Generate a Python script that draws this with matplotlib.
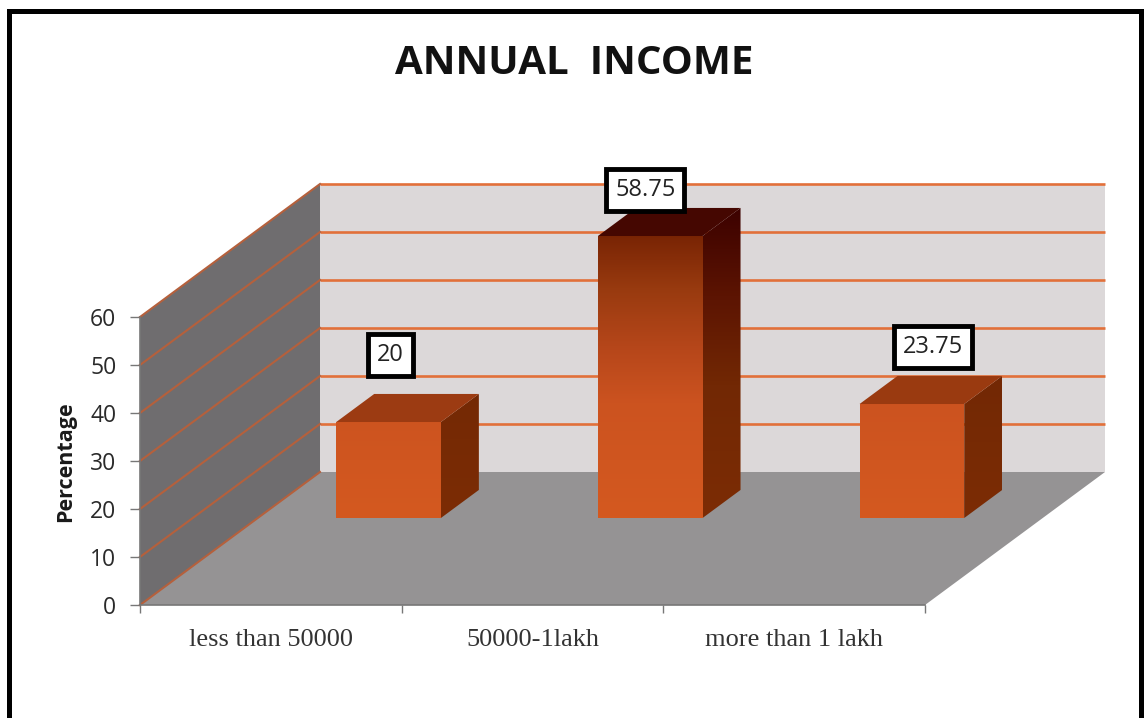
#!/usr/bin/env python3
import numpy as np
import matplotlib
matplotlib.use("Agg")
import matplotlib.pyplot as plt
from matplotlib.colors import LinearSegmentedColormap
from matplotlib.lines import Line2D
from matplotlib.patches import Polygon

categories = ["less than 50000", "50000-1lakh", "more than 1 lakh"]
percentages = [20, 58.75, 23.75]
value_labels = ["20", "58.75", "23.75"]
y_ticks = [0, 10, 20, 30, 40, 50, 60]

W, H = 1144, 718

# oblique projection of the chart box: depth 0 is the front, 1 the back wall
DEPTH_X = 180 / 261.67
DEPTH_Y = 133 / 4.8
BAR_WIDTH = 0.4
BAR_FRONT = 0.654
BAR_BACK = 0.865

# where each value box sits relative to the top of its bar, in pixels
label_shift = [(-17, 53), (-24, 32), (2, 43)]

front_cmap = LinearSegmentedColormap.from_list(
    "front", [(0, "#d4591f"), (0.4, "#cc5320"), (0.6, "#b5461a"), (0.8, "#983a0f"), (1, "#762203")])
side_cmap = LinearSegmentedColormap.from_list(
    "side", [(0, "#7c2c05"), (0.42, "#722804"), (0.7, "#5c1402"), (1, "#3a0000")])
top_cmap = LinearSegmentedColormap.from_list(
    "top", [(0, "#a5421a"), (0.4, "#9a3a10"), (1, "#420500")])


def project(x, v, d):
    return x + d * DEPTH_X, v + d * DEPTH_Y


def shaded_face(ax, verts, cmap, v_low, v_high):
    # polygon filled with a vertical gradient from v_low to v_high (fractions of the axis)
    verts = np.array(verts)
    clip = Polygon(verts, closed=True, facecolor="none", edgecolor="none", clip_on=False, zorder=4)
    ax.add_patch(clip)
    grad = np.linspace(v_low, v_high, 256).reshape(-1, 1)
    im = ax.imshow(
        grad, cmap=cmap, vmin=0, vmax=1, origin="lower", aspect="auto", zorder=4,
        interpolation="bilinear",
        extent=[verts[:, 0].min(), verts[:, 0].max(), verts[:, 1].min(), verts[:, 1].max()],
    )
    im.set_clip_box(ax.figure.bbox)
    im.set_clip_path(clip)


def draw_bar(ax, center, value):
    x0, x1 = center - BAR_WIDTH / 2, center + BAR_WIDTH / 2
    frac = value / 60

    front = [project(x0, 0, BAR_FRONT), project(x1, 0, BAR_FRONT),
             project(x1, value, BAR_FRONT), project(x0, value, BAR_FRONT)]
    side = [project(x1, 0, BAR_FRONT), project(x1, 0, BAR_BACK),
            project(x1, value, BAR_BACK), project(x1, value, BAR_FRONT)]
    top = [project(x0, value, BAR_FRONT), project(x1, value, BAR_FRONT),
           project(x1, value, BAR_BACK), project(x0, value, BAR_BACK)]

    shaded_face(ax, front, front_cmap, 0, frac)
    shaded_face(ax, side, side_cmap, 0, frac)
    ax.add_patch(Polygon(top, closed=True, facecolor=top_cmap(frac), edgecolor="none",
                         clip_on=False, zorder=4))


def main():
    fig = plt.figure(figsize=(W / 100, H / 100), dpi=100, facecolor="white")
    ax = fig.add_axes([140 / W, 1 - 605 / H, 785 / W, 288 / H])
    ax.set_facecolor("none")

    n = len(categories)

    # back wall, side wall and floor
    wall = [project(0, 0, 1), project(n, 0, 1), project(n, 60, 1), project(0, 60, 1)]
    side = [project(0, 0, 0), project(0, 0, 1), project(0, 60, 1), project(0, 60, 0)]
    floor = [project(0, 0, 0), project(n, 0, 0), project(n, 0, 1), project(0, 0, 1)]
    ax.add_patch(Polygon(wall, closed=True, facecolor="#dcd8d9", edgecolor="none", clip_on=False, zorder=1))
    ax.add_patch(Polygon(side, closed=True, facecolor="#6f6d6f", edgecolor="none", clip_on=False, zorder=1))
    ax.add_patch(Polygon(floor, closed=True, facecolor="#959394", edgecolor="none", clip_on=False, zorder=1))

    # grid lines run along the side wall and across the back wall
    for v in y_ticks:
        px, py = zip(project(0, v, 1), project(n, v, 1))
        sx, sy = zip(project(0, v, 0), project(0, v, 1))
        if v > 0:
            ax.plot(px, py, color="#e2703a", lw=1.9, clip_on=False, zorder=2, solid_capstyle="butt")
        ax.plot(sx, sy, color="#b5603c", lw=1.5, clip_on=False, zorder=2)

    for i, value in enumerate(percentages):
        draw_bar(ax, i + 0.5, value)

    for i, value in enumerate(percentages):
        cx = i + 0.5
        tx, ty = project(cx, value, (BAR_FRONT + BAR_BACK) / 2)
        ax.annotate(
            value_labels[i], xy=(tx, ty), xytext=label_shift[i], textcoords="offset pixels",
            ha="center", va="center", fontsize=17, family="Open Sans", color="#222222", zorder=6,
            annotation_clip=False,
            bbox=dict(boxstyle="square,pad=0.38", facecolor="white", edgecolor="black", linewidth=3.5),
        )

    ax.set_xlim(0, n)
    ax.set_ylim(0, 60)

    for name in ["top", "right"]:
        ax.spines[name].set_visible(False)
    for name in ["left", "bottom"]:
        ax.spines[name].set_color("#777777")
        ax.spines[name].set_linewidth(1.2)
        ax.spines[name].set_zorder(3)

    ax.set_yticks(y_ticks)
    ax.set_yticklabels([str(t) for t in y_ticks], fontsize=16.5, family="Open Sans", color="#2a2a2a")
    ax.tick_params(axis="y", length=7, width=1, color="#777777", pad=10)

    ax.set_xticks(np.arange(n + 1))
    ax.set_xticklabels([])
    ax.tick_params(axis="x", which="major", length=6, width=1, color="#777777")
    ax.set_xticks(np.arange(n) + 0.5, minor=True)
    ax.set_xticklabels(categories, minor=True, fontsize=19, family="Liberation Serif", color="#333333")
    ax.tick_params(axis="x", which="minor", length=0, pad=17.5)

    fig.text(66 / W, 1 - 462 / H, "Percentage", rotation=90, ha="center", va="center",
             fontsize=15.5, fontweight="bold", family="Open Sans", color="#1a1a1a")
    fig.text(574 / W, 1 - 63 / H, "ANNUAL  INCOME", ha="center", va="center",
             fontsize=29, fontweight="bold", family="Open Sans", color="#111111")

    # black frame along the left, top and right, open at the bottom
    fig.add_artist(Line2D([9 / W, 9 / W, 1141 / W, 1141 / W],
                          [0, 1 - 11 / H, 1 - 11 / H, 0],
                          transform=fig.transFigure, color="black", linewidth=3.6,
                          solid_joinstyle="miter"))

    fig.savefig("out.png", dpi=100, facecolor="white")
    plt.close(fig)


if __name__ == "__main__":
    main()
